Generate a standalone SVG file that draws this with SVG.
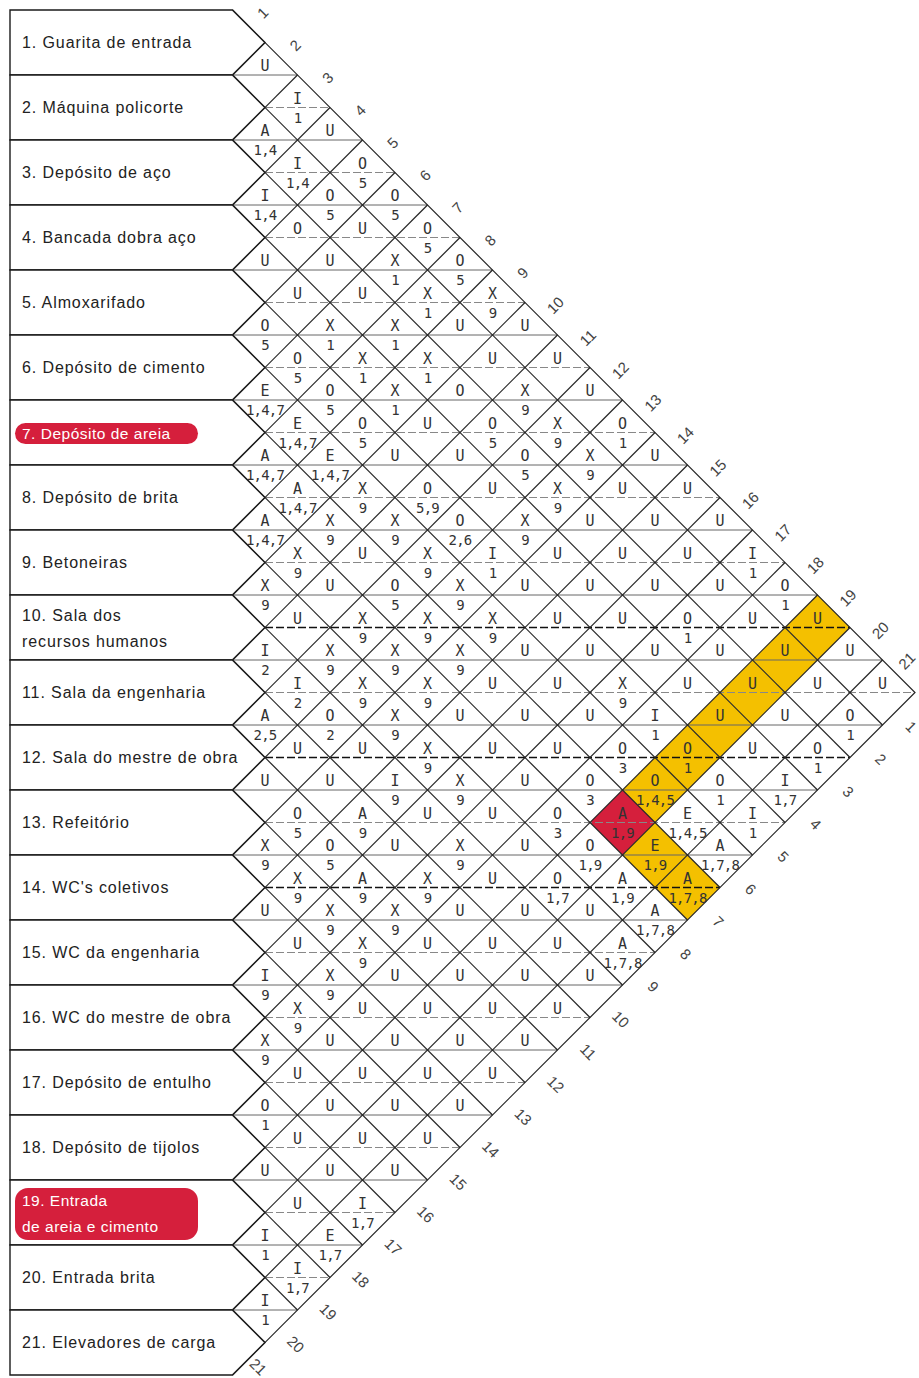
<svg xmlns="http://www.w3.org/2000/svg" width="919" height="1378" viewBox="0 0 919 1378">
<style>
.box{fill:#fff;stroke:#1a1a1a;stroke-width:1.4}
.lbl{font-family:"Liberation Sans",Arial,sans-serif;font-size:16px;fill:#222;letter-spacing:0.9px}
.wl{font-family:"Liberation Sans",Arial,sans-serif;font-size:15.5px;fill:#fff;letter-spacing:0.5px}
.pill{fill:#d51f3c}
.g{stroke:#262626;stroke-width:1.2;fill:none}
.hb{stroke:#666;stroke-width:1}
.hc{stroke:#888;stroke-width:1;stroke-dasharray:8 3}
.hd{stroke:#111;stroke-width:1.3;stroke-dasharray:8 3}
.l{font-family:"DejaVu Sans Mono",monospace;font-size:15px;fill:#333;text-anchor:middle}
.r{font-family:"DejaVu Sans Mono",monospace;font-size:14px;fill:#333;text-anchor:middle;letter-spacing:-0.8px}
.n{font-family:"Liberation Sans",Arial,sans-serif;font-size:15px;fill:#444;text-anchor:middle}
.y{fill:#f4c000}
.red{fill:#d51f3c}
</style>
<rect width="919" height="1378" fill="#fff"/>
<g id="highlights">
<polygon class="y" points="785,627.5 817.5,595 850,627.5 817.5,660"/>
<polygon class="y" points="752.5,660 785,627.5 817.5,660 785,692.5"/>
<polygon class="y" points="720,692.5 752.5,660 785,692.5 752.5,725"/>
<polygon class="y" points="687.5,725 720,692.5 752.5,725 720,757.5"/>
<polygon class="y" points="655,757.5 687.5,725 720,757.5 687.5,790"/>
<polygon class="y" points="622.5,790 655,757.5 687.5,790 655,822.5"/>
<polygon class="red" points="590,822.5 622.5,790 655,822.5 622.5,855"/>
<polygon class="y" points="622.5,855 655,822.5 687.5,855 655,887.5"/>
<polygon class="y" points="655,887.5 687.5,855 720,887.5 687.5,920"/>
</g>
<g id="row-boxes">
<g id="n1"><polygon class="box" points="10,10 232.5,10 265,42.5 232.5,75 10,75"/><text class="lbl" x="22" y="48">1. Guarita de entrada</text></g>
<g id="n2"><polygon class="box" points="10,75 232.5,75 265,107.5 232.5,140 10,140"/><text class="lbl" x="22" y="113">2. Máquina policorte</text></g>
<g id="n3"><polygon class="box" points="10,140 232.5,140 265,172.5 232.5,205 10,205"/><text class="lbl" x="22" y="178">3. Depósito de aço</text></g>
<g id="n4"><polygon class="box" points="10,205 232.5,205 265,237.5 232.5,270 10,270"/><text class="lbl" x="22" y="243">4. Bancada dobra aço</text></g>
<g id="n5"><polygon class="box" points="10,270 232.5,270 265,302.5 232.5,335 10,335"/><text class="lbl" x="22" y="308">5. Almoxarifado</text></g>
<g id="n6"><polygon class="box" points="10,335 232.5,335 265,367.5 232.5,400 10,400"/><text class="lbl" x="22" y="373">6. Depósito de cimento</text></g>
<g id="n7"><polygon class="box" points="10,400 232.5,400 265,432.5 232.5,465 10,465"/><rect class="pill" x="15" y="423" width="183" height="21" rx="10.5"/><text class="wl" x="22" y="439">7. Depósito de areia</text></g>
<g id="n8"><polygon class="box" points="10,465 232.5,465 265,497.5 232.5,530 10,530"/><text class="lbl" x="22" y="503">8. Depósito de brita</text></g>
<g id="n9"><polygon class="box" points="10,530 232.5,530 265,562.5 232.5,595 10,595"/><text class="lbl" x="22" y="568">9. Betoneiras</text></g>
<g id="n10"><polygon class="box" points="10,595 232.5,595 265,627.5 232.5,660 10,660"/><text class="lbl" x="22" y="621">10. Sala dos</text><text class="lbl" x="22" y="647">recursos humanos</text></g>
<g id="n11"><polygon class="box" points="10,660 232.5,660 265,692.5 232.5,725 10,725"/><text class="lbl" x="22" y="698">11. Sala da engenharia</text></g>
<g id="n12"><polygon class="box" points="10,725 232.5,725 265,757.5 232.5,790 10,790"/><text class="lbl" x="22" y="763">12. Sala do mestre de obra</text></g>
<g id="n13"><polygon class="box" points="10,790 232.5,790 265,822.5 232.5,855 10,855"/><text class="lbl" x="22" y="828">13. Refeitório</text></g>
<g id="n14"><polygon class="box" points="10,855 232.5,855 265,887.5 232.5,920 10,920"/><text class="lbl" x="22" y="893">14. WC's coletivos</text></g>
<g id="n15"><polygon class="box" points="10,920 232.5,920 265,952.5 232.5,985 10,985"/><text class="lbl" x="22" y="958">15. WC da engenharia</text></g>
<g id="n16"><polygon class="box" points="10,985 232.5,985 265,1017.5 232.5,1050 10,1050"/><text class="lbl" x="22" y="1023">16. WC do mestre de obra</text></g>
<g id="n17"><polygon class="box" points="10,1050 232.5,1050 265,1082.5 232.5,1115 10,1115"/><text class="lbl" x="22" y="1088">17. Depósito de entulho</text></g>
<g id="n18"><polygon class="box" points="10,1115 232.5,1115 265,1147.5 232.5,1180 10,1180"/><text class="lbl" x="22" y="1153">18. Depósito de tijolos</text></g>
<g id="n19"><polygon class="box" points="10,1180 232.5,1180 265,1212.5 232.5,1245 10,1245"/><rect class="pill" x="15" y="1188" width="183" height="52" rx="13"/><text class="wl" x="22" y="1206">19. Entrada</text><text class="wl" x="22" y="1232">de areia e cimento</text></g>
<g id="n20"><polygon class="box" points="10,1245 232.5,1245 265,1277.5 232.5,1310 10,1310"/><text class="lbl" x="22" y="1283">20. Entrada brita</text></g>
<g id="n21"><polygon class="box" points="10,1310 232.5,1310 265,1342.5 232.5,1375 10,1375"/><text class="lbl" x="22" y="1348">21. Elevadores de carga</text></g>
</g>
<g id="connectors">
<g id="hlines-boundary">
<line class="hb" x1="232.5" y1="75" x2="297.5" y2="75"/>
<line class="hb" x1="232.5" y1="140" x2="362.5" y2="140"/>
<line class="hb" x1="232.5" y1="205" x2="427.5" y2="205"/>
<line class="hb" x1="232.5" y1="270" x2="492.5" y2="270"/>
<line class="hb" x1="232.5" y1="335" x2="557.5" y2="335"/>
<line class="hb" x1="232.5" y1="400" x2="622.5" y2="400"/>
<line class="hb" x1="232.5" y1="465" x2="687.5" y2="465"/>
<line class="hb" x1="232.5" y1="530" x2="752.5" y2="530"/>
<line class="hb" x1="232.5" y1="595" x2="817.5" y2="595"/>
<line class="hb" x1="232.5" y1="660" x2="882.5" y2="660"/>
<line class="hb" x1="232.5" y1="725" x2="882.5" y2="725"/>
<line class="hb" x1="232.5" y1="790" x2="817.5" y2="790"/>
<line class="hb" x1="232.5" y1="855" x2="752.5" y2="855"/>
<line class="hb" x1="232.5" y1="920" x2="687.5" y2="920"/>
<line class="hb" x1="232.5" y1="985" x2="622.5" y2="985"/>
<line class="hb" x1="232.5" y1="1050" x2="557.5" y2="1050"/>
<line class="hb" x1="232.5" y1="1115" x2="492.5" y2="1115"/>
<line class="hb" x1="232.5" y1="1180" x2="427.5" y2="1180"/>
<line class="hb" x1="232.5" y1="1245" x2="362.5" y2="1245"/>
<line class="hb" x1="232.5" y1="1310" x2="297.5" y2="1310"/>
</g>
<g id="hlines-center">
<line class="hc" x1="265" y1="107.5" x2="330" y2="107.5"/>
<line class="hc" x1="265" y1="172.5" x2="395" y2="172.5"/>
<line class="hc" x1="265" y1="237.5" x2="460" y2="237.5"/>
<line class="hc" x1="265" y1="302.5" x2="525" y2="302.5"/>
<line class="hc" x1="265" y1="367.5" x2="590" y2="367.5"/>
<line class="hc" x1="265" y1="432.5" x2="655" y2="432.5"/>
<line class="hc" x1="265" y1="497.5" x2="720" y2="497.5"/>
<line class="hc" x1="265" y1="562.5" x2="785" y2="562.5"/>
<line class="hd" x1="265" y1="627.5" x2="850" y2="627.5"/>
<line class="hc" x1="265" y1="692.5" x2="915" y2="692.5"/>
<line class="hd" x1="265" y1="757.5" x2="850" y2="757.5"/>
<line class="hc" x1="265" y1="822.5" x2="785" y2="822.5"/>
<line class="hd" x1="265" y1="887.5" x2="720" y2="887.5"/>
<line class="hc" x1="265" y1="952.5" x2="655" y2="952.5"/>
<line class="hc" x1="265" y1="1017.5" x2="590" y2="1017.5"/>
<line class="hc" x1="265" y1="1082.5" x2="525" y2="1082.5"/>
<line class="hc" x1="265" y1="1147.5" x2="460" y2="1147.5"/>
<line class="hc" x1="265" y1="1212.5" x2="395" y2="1212.5"/>
<line class="hc" x1="265" y1="1277.5" x2="330" y2="1277.5"/>
</g>
<g id="diag-down">
<line class="g" x1="232.5" y1="75" x2="882.5" y2="725"/>
<line class="g" x1="232.5" y1="140" x2="850" y2="757.5"/>
<line class="g" x1="232.5" y1="205" x2="817.5" y2="790"/>
<line class="g" x1="232.5" y1="270" x2="785" y2="822.5"/>
<line class="g" x1="232.5" y1="335" x2="752.5" y2="855"/>
<line class="g" x1="232.5" y1="400" x2="720" y2="887.5"/>
<line class="g" x1="232.5" y1="465" x2="687.5" y2="920"/>
<line class="g" x1="232.5" y1="530" x2="655" y2="952.5"/>
<line class="g" x1="232.5" y1="595" x2="622.5" y2="985"/>
<line class="g" x1="232.5" y1="660" x2="590" y2="1017.5"/>
<line class="g" x1="232.5" y1="725" x2="557.5" y2="1050"/>
<line class="g" x1="232.5" y1="790" x2="525" y2="1082.5"/>
<line class="g" x1="232.5" y1="855" x2="492.5" y2="1115"/>
<line class="g" x1="232.5" y1="920" x2="460" y2="1147.5"/>
<line class="g" x1="232.5" y1="985" x2="427.5" y2="1180"/>
<line class="g" x1="232.5" y1="1050" x2="395" y2="1212.5"/>
<line class="g" x1="232.5" y1="1115" x2="362.5" y2="1245"/>
<line class="g" x1="232.5" y1="1180" x2="330" y2="1277.5"/>
<line class="g" x1="232.5" y1="1245" x2="297.5" y2="1310"/>
<line class="g" x1="232.5" y1="1310" x2="265" y2="1342.5"/>
</g>
<g id="diag-up">
<line class="g" x1="232.5" y1="75" x2="265" y2="42.5"/>
<line class="g" x1="232.5" y1="140" x2="297.5" y2="75"/>
<line class="g" x1="232.5" y1="205" x2="330" y2="107.5"/>
<line class="g" x1="232.5" y1="270" x2="362.5" y2="140"/>
<line class="g" x1="232.5" y1="335" x2="395" y2="172.5"/>
<line class="g" x1="232.5" y1="400" x2="427.5" y2="205"/>
<line class="g" x1="232.5" y1="465" x2="460" y2="237.5"/>
<line class="g" x1="232.5" y1="530" x2="492.5" y2="270"/>
<line class="g" x1="232.5" y1="595" x2="525" y2="302.5"/>
<line class="g" x1="232.5" y1="660" x2="557.5" y2="335"/>
<line class="g" x1="232.5" y1="725" x2="590" y2="367.5"/>
<line class="g" x1="232.5" y1="790" x2="622.5" y2="400"/>
<line class="g" x1="232.5" y1="855" x2="655" y2="432.5"/>
<line class="g" x1="232.5" y1="920" x2="687.5" y2="465"/>
<line class="g" x1="232.5" y1="985" x2="720" y2="497.5"/>
<line class="g" x1="232.5" y1="1050" x2="752.5" y2="530"/>
<line class="g" x1="232.5" y1="1115" x2="785" y2="562.5"/>
<line class="g" x1="232.5" y1="1180" x2="817.5" y2="595"/>
<line class="g" x1="232.5" y1="1245" x2="850" y2="627.5"/>
<line class="g" x1="232.5" y1="1310" x2="882.5" y2="660"/>
</g>
<polyline class="g" points="232.5,10 915,692.5 232.5,1375"/>
</g>
<g id="edge-numbers">
<text class="n" transform="translate(263,13) rotate(-45)" y="5">1</text>
<text class="n" transform="translate(295.5,45.5) rotate(-45)" y="5">2</text>
<text class="n" transform="translate(328,78) rotate(-45)" y="5">3</text>
<text class="n" transform="translate(360.5,110.5) rotate(-45)" y="5">4</text>
<text class="n" transform="translate(393,143) rotate(-45)" y="5">5</text>
<text class="n" transform="translate(425.5,175.5) rotate(-45)" y="5">6</text>
<text class="n" transform="translate(458,208) rotate(-45)" y="5">7</text>
<text class="n" transform="translate(490.5,240.5) rotate(-45)" y="5">8</text>
<text class="n" transform="translate(523,273) rotate(-45)" y="5">9</text>
<text class="n" transform="translate(555.5,305.5) rotate(-45)" y="5">10</text>
<text class="n" transform="translate(588,338) rotate(-45)" y="5">11</text>
<text class="n" transform="translate(620.5,370.5) rotate(-45)" y="5">12</text>
<text class="n" transform="translate(653,403) rotate(-45)" y="5">13</text>
<text class="n" transform="translate(685.5,435.5) rotate(-45)" y="5">14</text>
<text class="n" transform="translate(718,468) rotate(-45)" y="5">15</text>
<text class="n" transform="translate(750.5,500.5) rotate(-45)" y="5">16</text>
<text class="n" transform="translate(783,533) rotate(-45)" y="5">17</text>
<text class="n" transform="translate(815.5,565.5) rotate(-45)" y="5">18</text>
<text class="n" transform="translate(848,598) rotate(-45)" y="5">19</text>
<text class="n" transform="translate(880.5,630.5) rotate(-45)" y="5">20</text>
<text class="n" transform="translate(907,661) rotate(-45)" y="5">21</text>
<text class="n" transform="translate(911,727) rotate(45)" y="5">1</text>
<text class="n" transform="translate(880.5,759.5) rotate(45)" y="5">2</text>
<text class="n" transform="translate(848,792) rotate(45)" y="5">3</text>
<text class="n" transform="translate(815.5,824.5) rotate(45)" y="5">4</text>
<text class="n" transform="translate(783,857) rotate(45)" y="5">5</text>
<text class="n" transform="translate(750.5,889.5) rotate(45)" y="5">6</text>
<text class="n" transform="translate(718,922) rotate(45)" y="5">7</text>
<text class="n" transform="translate(685.5,954.5) rotate(45)" y="5">8</text>
<text class="n" transform="translate(653,987) rotate(45)" y="5">9</text>
<text class="n" transform="translate(620.5,1019.5) rotate(45)" y="5">10</text>
<text class="n" transform="translate(588,1052) rotate(45)" y="5">11</text>
<text class="n" transform="translate(555.5,1084.5) rotate(45)" y="5">12</text>
<text class="n" transform="translate(523,1117) rotate(45)" y="5">13</text>
<text class="n" transform="translate(490.5,1149.5) rotate(45)" y="5">14</text>
<text class="n" transform="translate(458,1182) rotate(45)" y="5">15</text>
<text class="n" transform="translate(425.5,1214.5) rotate(45)" y="5">16</text>
<text class="n" transform="translate(393,1247) rotate(45)" y="5">17</text>
<text class="n" transform="translate(360.5,1279.5) rotate(45)" y="5">18</text>
<text class="n" transform="translate(328,1312) rotate(45)" y="5">19</text>
<text class="n" transform="translate(295.5,1344.5) rotate(45)" y="5">20</text>
<text class="n" transform="translate(258,1367) rotate(45)" y="5">21</text>
</g>
<g id="rel-1">
<text class="l" x="265" y="71">U</text>
<text class="l" x="297.5" y="103.5">I</text><text class="r" x="297.5" y="122.5">1</text>
<text class="l" x="330" y="136">U</text>
<text class="l" x="362.5" y="168.5">O</text><text class="r" x="362.5" y="187.5">5</text>
<text class="l" x="395" y="201">O</text><text class="r" x="395" y="220">5</text>
<text class="l" x="427.5" y="233.5">O</text><text class="r" x="427.5" y="252.5">5</text>
<text class="l" x="460" y="266">O</text><text class="r" x="460" y="285">5</text>
<text class="l" x="492.5" y="298.5">X</text><text class="r" x="492.5" y="317.5">9</text>
<text class="l" x="525" y="331">U</text>
<text class="l" x="557.5" y="363.5">U</text>
<text class="l" x="590" y="396">U</text>
<text class="l" x="622.5" y="428.5">O</text><text class="r" x="622.5" y="447.5">1</text>
<text class="l" x="655" y="461">U</text>
<text class="l" x="687.5" y="493.5">U</text>
<text class="l" x="720" y="526">U</text>
<text class="l" x="752.5" y="558.5">I</text><text class="r" x="752.5" y="577.5">1</text>
<text class="l" x="785" y="591">O</text><text class="r" x="785" y="610">1</text>
<text class="l" x="817.5" y="623.5">U</text>
<text class="l" x="850" y="656">U</text>
<text class="l" x="882.5" y="688.5">U</text>
</g>
<g id="rel-2">
<text class="l" x="265" y="136">A</text><text class="r" x="265" y="155">1,4</text>
<text class="l" x="297.5" y="168.5">I</text><text class="r" x="297.5" y="187.5">1,4</text>
<text class="l" x="330" y="201">O</text><text class="r" x="330" y="220">5</text>
<text class="l" x="362.5" y="233.5">U</text>
<text class="l" x="395" y="266">X</text><text class="r" x="395" y="285">1</text>
<text class="l" x="427.5" y="298.5">X</text><text class="r" x="427.5" y="317.5">1</text>
<text class="l" x="460" y="331">U</text>
<text class="l" x="492.5" y="363.5">U</text>
<text class="l" x="525" y="396">X</text><text class="r" x="525" y="415">9</text>
<text class="l" x="557.5" y="428.5">X</text><text class="r" x="557.5" y="447.5">9</text>
<text class="l" x="590" y="461">X</text><text class="r" x="590" y="480">9</text>
<text class="l" x="622.5" y="493.5">U</text>
<text class="l" x="655" y="526">U</text>
<text class="l" x="687.5" y="558.5">U</text>
<text class="l" x="720" y="591">U</text>
<text class="l" x="752.5" y="623.5">U</text>
<text class="l" x="785" y="656">U</text>
<text class="l" x="817.5" y="688.5">U</text>
<text class="l" x="850" y="721">O</text><text class="r" x="850" y="740">1</text>
</g>
<g id="rel-3">
<text class="l" x="265" y="201">I</text><text class="r" x="265" y="220">1,4</text>
<text class="l" x="297.5" y="233.5">O</text>
<text class="l" x="330" y="266">U</text>
<text class="l" x="362.5" y="298.5">U</text>
<text class="l" x="395" y="331">X</text><text class="r" x="395" y="350">1</text>
<text class="l" x="427.5" y="363.5">X</text><text class="r" x="427.5" y="382.5">1</text>
<text class="l" x="460" y="396">O</text>
<text class="l" x="492.5" y="428.5">O</text><text class="r" x="492.5" y="447.5">5</text>
<text class="l" x="525" y="461">O</text><text class="r" x="525" y="480">5</text>
<text class="l" x="557.5" y="493.5">X</text><text class="r" x="557.5" y="512.5">9</text>
<text class="l" x="590" y="526">U</text>
<text class="l" x="622.5" y="558.5">U</text>
<text class="l" x="655" y="591">U</text>
<text class="l" x="687.5" y="623.5">O</text><text class="r" x="687.5" y="642.5">1</text>
<text class="l" x="720" y="656">U</text>
<text class="l" x="752.5" y="688.5">U</text>
<text class="l" x="785" y="721">U</text>
<text class="l" x="817.5" y="753.5">O</text><text class="r" x="817.5" y="772.5">1</text>
</g>
<g id="rel-4">
<text class="l" x="265" y="266">U</text>
<text class="l" x="297.5" y="298.5">U</text>
<text class="l" x="330" y="331">X</text><text class="r" x="330" y="350">1</text>
<text class="l" x="362.5" y="363.5">X</text><text class="r" x="362.5" y="382.5">1</text>
<text class="l" x="395" y="396">X</text><text class="r" x="395" y="415">1</text>
<text class="l" x="427.5" y="428.5">U</text>
<text class="l" x="460" y="461">U</text>
<text class="l" x="492.5" y="493.5">U</text>
<text class="l" x="525" y="526">X</text><text class="r" x="525" y="545">9</text>
<text class="l" x="557.5" y="558.5">U</text>
<text class="l" x="590" y="591">U</text>
<text class="l" x="622.5" y="623.5">U</text>
<text class="l" x="655" y="656">U</text>
<text class="l" x="687.5" y="688.5">U</text>
<text class="l" x="720" y="721">U</text>
<text class="l" x="752.5" y="753.5">U</text>
<text class="l" x="785" y="786">I</text><text class="r" x="785" y="805">1,7</text>
</g>
<g id="rel-5">
<text class="l" x="265" y="331">O</text><text class="r" x="265" y="350">5</text>
<text class="l" x="297.5" y="363.5">O</text><text class="r" x="297.5" y="382.5">5</text>
<text class="l" x="330" y="396">O</text><text class="r" x="330" y="415">5</text>
<text class="l" x="362.5" y="428.5">O</text><text class="r" x="362.5" y="447.5">5</text>
<text class="l" x="395" y="461">U</text>
<text class="l" x="427.5" y="493.5">O</text><text class="r" x="427.5" y="512.5">5,9</text>
<text class="l" x="460" y="526">O</text><text class="r" x="460" y="545">2,6</text>
<text class="l" x="492.5" y="558.5">I</text><text class="r" x="492.5" y="577.5">1</text>
<text class="l" x="525" y="591">U</text>
<text class="l" x="557.5" y="623.5">U</text>
<text class="l" x="590" y="656">U</text>
<text class="l" x="622.5" y="688.5">X</text><text class="r" x="622.5" y="707.5">9</text>
<text class="l" x="655" y="721">I</text><text class="r" x="655" y="740">1</text>
<text class="l" x="687.5" y="753.5">O</text><text class="r" x="687.5" y="772.5">1</text>
<text class="l" x="720" y="786">O</text><text class="r" x="720" y="805">1</text>
<text class="l" x="752.5" y="818.5">I</text><text class="r" x="752.5" y="837.5">1</text>
</g>
<g id="rel-6">
<text class="l" x="265" y="396">E</text><text class="r" x="265" y="415">1,4,7</text>
<text class="l" x="297.5" y="428.5">E</text><text class="r" x="297.5" y="447.5">1,4,7</text>
<text class="l" x="330" y="461">E</text><text class="r" x="330" y="480">1,4,7</text>
<text class="l" x="362.5" y="493.5">X</text><text class="r" x="362.5" y="512.5">9</text>
<text class="l" x="395" y="526">X</text><text class="r" x="395" y="545">9</text>
<text class="l" x="427.5" y="558.5">X</text><text class="r" x="427.5" y="577.5">9</text>
<text class="l" x="460" y="591">X</text><text class="r" x="460" y="610">9</text>
<text class="l" x="492.5" y="623.5">X</text><text class="r" x="492.5" y="642.5">9</text>
<text class="l" x="525" y="656">U</text>
<text class="l" x="557.5" y="688.5">U</text>
<text class="l" x="590" y="721">U</text>
<text class="l" x="622.5" y="753.5">O</text><text class="r" x="622.5" y="772.5">3</text>
<text class="l" x="655" y="786">O</text><text class="r" x="655" y="805">1,4,5</text>
<text class="l" x="687.5" y="818.5">E</text><text class="r" x="687.5" y="837.5">1,4,5</text>
<text class="l" x="720" y="851">A</text><text class="r" x="720" y="870">1,7,8</text>
</g>
<g id="rel-7">
<text class="l" x="265" y="461">A</text><text class="r" x="265" y="480">1,4,7</text>
<text class="l" x="297.5" y="493.5">A</text><text class="r" x="297.5" y="512.5">1,4,7</text>
<text class="l" x="330" y="526">X</text><text class="r" x="330" y="545">9</text>
<text class="l" x="362.5" y="558.5">U</text>
<text class="l" x="395" y="591">O</text><text class="r" x="395" y="610">5</text>
<text class="l" x="427.5" y="623.5">X</text><text class="r" x="427.5" y="642.5">9</text>
<text class="l" x="460" y="656">X</text><text class="r" x="460" y="675">9</text>
<text class="l" x="492.5" y="688.5">U</text>
<text class="l" x="525" y="721">U</text>
<text class="l" x="557.5" y="753.5">U</text>
<text class="l" x="590" y="786">O</text><text class="r" x="590" y="805">3</text>
<text class="l" x="622.5" y="818.5">A</text><text class="r" x="622.5" y="837.5">1,9</text>
<text class="l" x="655" y="851">E</text><text class="r" x="655" y="870">1,9</text>
<text class="l" x="687.5" y="883.5">A</text><text class="r" x="687.5" y="902.5">1,7,8</text>
</g>
<g id="rel-8">
<text class="l" x="265" y="526">A</text><text class="r" x="265" y="545">1,4,7</text>
<text class="l" x="297.5" y="558.5">X</text><text class="r" x="297.5" y="577.5">9</text>
<text class="l" x="330" y="591">U</text>
<text class="l" x="362.5" y="623.5">X</text><text class="r" x="362.5" y="642.5">9</text>
<text class="l" x="395" y="656">X</text><text class="r" x="395" y="675">9</text>
<text class="l" x="427.5" y="688.5">X</text><text class="r" x="427.5" y="707.5">9</text>
<text class="l" x="460" y="721">U</text>
<text class="l" x="492.5" y="753.5">U</text>
<text class="l" x="525" y="786">U</text>
<text class="l" x="557.5" y="818.5">O</text><text class="r" x="557.5" y="837.5">3</text>
<text class="l" x="590" y="851">O</text><text class="r" x="590" y="870">1,9</text>
<text class="l" x="622.5" y="883.5">A</text><text class="r" x="622.5" y="902.5">1,9</text>
<text class="l" x="655" y="916">A</text><text class="r" x="655" y="935">1,7,8</text>
</g>
<g id="rel-9">
<text class="l" x="265" y="591">X</text><text class="r" x="265" y="610">9</text>
<text class="l" x="297.5" y="623.5">U</text>
<text class="l" x="330" y="656">X</text><text class="r" x="330" y="675">9</text>
<text class="l" x="362.5" y="688.5">X</text><text class="r" x="362.5" y="707.5">9</text>
<text class="l" x="395" y="721">X</text><text class="r" x="395" y="740">9</text>
<text class="l" x="427.5" y="753.5">X</text><text class="r" x="427.5" y="772.5">9</text>
<text class="l" x="460" y="786">X</text><text class="r" x="460" y="805">9</text>
<text class="l" x="492.5" y="818.5">U</text>
<text class="l" x="525" y="851">U</text>
<text class="l" x="557.5" y="883.5">O</text><text class="r" x="557.5" y="902.5">1,7</text>
<text class="l" x="590" y="916">U</text>
<text class="l" x="622.5" y="948.5">A</text><text class="r" x="622.5" y="967.5">1,7,8</text>
</g>
<g id="rel-10">
<text class="l" x="265" y="656">I</text><text class="r" x="265" y="675">2</text>
<text class="l" x="297.5" y="688.5">I</text><text class="r" x="297.5" y="707.5">2</text>
<text class="l" x="330" y="721">O</text><text class="r" x="330" y="740">2</text>
<text class="l" x="362.5" y="753.5">U</text>
<text class="l" x="395" y="786">I</text><text class="r" x="395" y="805">9</text>
<text class="l" x="427.5" y="818.5">U</text>
<text class="l" x="460" y="851">X</text><text class="r" x="460" y="870">9</text>
<text class="l" x="492.5" y="883.5">U</text>
<text class="l" x="525" y="916">U</text>
<text class="l" x="557.5" y="948.5">U</text>
<text class="l" x="590" y="981">U</text>
</g>
<g id="rel-11">
<text class="l" x="265" y="721">A</text><text class="r" x="265" y="740">2,5</text>
<text class="l" x="297.5" y="753.5">U</text>
<text class="l" x="330" y="786">U</text>
<text class="l" x="362.5" y="818.5">A</text><text class="r" x="362.5" y="837.5">9</text>
<text class="l" x="395" y="851">U</text>
<text class="l" x="427.5" y="883.5">X</text><text class="r" x="427.5" y="902.5">9</text>
<text class="l" x="460" y="916">U</text>
<text class="l" x="492.5" y="948.5">U</text>
<text class="l" x="525" y="981">U</text>
<text class="l" x="557.5" y="1013.5">U</text>
</g>
<g id="rel-12">
<text class="l" x="265" y="786">U</text>
<text class="l" x="297.5" y="818.5">O</text><text class="r" x="297.5" y="837.5">5</text>
<text class="l" x="330" y="851">O</text><text class="r" x="330" y="870">5</text>
<text class="l" x="362.5" y="883.5">A</text><text class="r" x="362.5" y="902.5">9</text>
<text class="l" x="395" y="916">X</text><text class="r" x="395" y="935">9</text>
<text class="l" x="427.5" y="948.5">U</text>
<text class="l" x="460" y="981">U</text>
<text class="l" x="492.5" y="1013.5">U</text>
<text class="l" x="525" y="1046">U</text>
</g>
<g id="rel-13">
<text class="l" x="265" y="851">X</text><text class="r" x="265" y="870">9</text>
<text class="l" x="297.5" y="883.5">X</text><text class="r" x="297.5" y="902.5">9</text>
<text class="l" x="330" y="916">X</text><text class="r" x="330" y="935">9</text>
<text class="l" x="362.5" y="948.5">X</text><text class="r" x="362.5" y="967.5">9</text>
<text class="l" x="395" y="981">U</text>
<text class="l" x="427.5" y="1013.5">U</text>
<text class="l" x="460" y="1046">U</text>
<text class="l" x="492.5" y="1078.5">U</text>
</g>
<g id="rel-14">
<text class="l" x="265" y="916">U</text>
<text class="l" x="297.5" y="948.5">U</text>
<text class="l" x="330" y="981">X</text><text class="r" x="330" y="1000">9</text>
<text class="l" x="362.5" y="1013.5">U</text>
<text class="l" x="395" y="1046">U</text>
<text class="l" x="427.5" y="1078.5">U</text>
<text class="l" x="460" y="1111">U</text>
</g>
<g id="rel-15">
<text class="l" x="265" y="981">I</text><text class="r" x="265" y="1000">9</text>
<text class="l" x="297.5" y="1013.5">X</text><text class="r" x="297.5" y="1032.5">9</text>
<text class="l" x="330" y="1046">U</text>
<text class="l" x="362.5" y="1078.5">U</text>
<text class="l" x="395" y="1111">U</text>
<text class="l" x="427.5" y="1143.5">U</text>
</g>
<g id="rel-16">
<text class="l" x="265" y="1046">X</text><text class="r" x="265" y="1065">9</text>
<text class="l" x="297.5" y="1078.5">U</text>
<text class="l" x="330" y="1111">U</text>
<text class="l" x="362.5" y="1143.5">U</text>
<text class="l" x="395" y="1176">U</text>
</g>
<g id="rel-17">
<text class="l" x="265" y="1111">O</text><text class="r" x="265" y="1130">1</text>
<text class="l" x="297.5" y="1143.5">U</text>
<text class="l" x="330" y="1176">U</text>
<text class="l" x="362.5" y="1208.5">I</text><text class="r" x="362.5" y="1227.5">1,7</text>
</g>
<g id="rel-18">
<text class="l" x="265" y="1176">U</text>
<text class="l" x="297.5" y="1208.5">U</text>
<text class="l" x="330" y="1241">E</text><text class="r" x="330" y="1260">1,7</text>
</g>
<g id="rel-19">
<text class="l" x="265" y="1241">I</text><text class="r" x="265" y="1260">1</text>
<text class="l" x="297.5" y="1273.5">I</text><text class="r" x="297.5" y="1292.5">1,7</text>
</g>
<g id="rel-20">
<text class="l" x="265" y="1306">I</text><text class="r" x="265" y="1325">1</text>
</g>
</svg>
